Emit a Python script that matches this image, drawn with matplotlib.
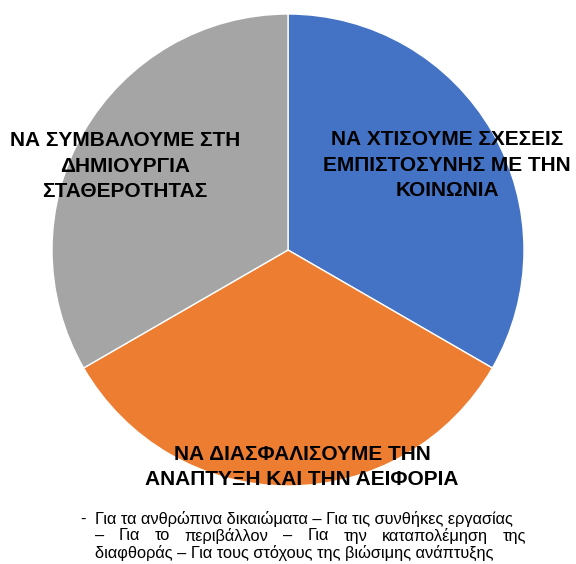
import matplotlib
matplotlib.use("Agg")
import matplotlib.pyplot as plt

plt.rcParams['font.family'] = ['Liberation Sans', 'DejaVu Sans']

categories = ["ΝΑ ΧΤΙΣΟΥΜΕ ΣΧΕΣΕΙΣ\nΕΜΠΙΣΤΟΣΥΝΗΣ ΜΕ ΤΗΝ\nΚΟΙΝΩΝΙΑ",
              "ΝΑ ΔΙΑΣΦΑΛΙΣΟΥΜΕ ΤΗΝ\nΑΝΑΠΤΥΞΗ ΚΑΙ ΤΗΝ ΑΕΙΦΟΡΙΑ",
              "ΝΑ ΣΥΜΒΑΛΟΥΜΕ ΣΤΗ\nΔΗΜΙΟΥΡΓΙΑ\nΣΤΑΘΕΡΟΤΗΤΑΣ"]
values = [1, 1, 1]
colors = ["#4472C4", "#ED7D31", "#A5A5A5"]
note_lines = [
    ["Για τα ανθρώπινα δικαιώματα – Για τις συνθήκες εργασίας"],
    ["–", "Για", "το", "περιβάλλον", "–", "Για", "την", "καταπολέμηση", "της"],
    ["διαφθοράς – Για τους στόχους της βιώσιμης ανάπτυξης"],
]

W, H = 576, 564
fig = plt.figure(figsize=(W / 100, H / 100), dpi=100)
ax = fig.add_axes([52 / W, 1 - 486 / H, 472 / W, 472 / H])
ax.pie(values, colors=colors, startangle=90, counterclock=False,
       wedgeprops=dict(linewidth=1.0, edgecolor="white"))
ax.set_aspect("equal")
ax.set_xlim(-1, 1)
ax.set_ylim(-1, 1)
ax.axis("off")

def px(x, y):
    return x / W, 1 - y / H

label_pos = [(447, 165), (302, 467), (125, 166)]
for lab, (x, y) in zip(categories, label_pos):
    fig.text(*px(x, y), lab, ha="center", va="center", fontsize=15,
             fontweight="bold", linespacing=1.45, color="black")

fs = 11.8
fig.text(*px(80, 519), "-", ha="left", va="center", fontsize=fs)
fig.text(*px(95, 519), note_lines[0][0], ha="left", va="center", fontsize=fs)
fig.text(*px(95, 553), note_lines[2][0], ha="left", va="center", fontsize=fs)

# justified second line
fig.canvas.draw()
r = fig.canvas.get_renderer()
words = note_lines[1]
texts = [fig.text(0, 0, w, fontsize=fs, ha="left", va="center") for w in words]
widths = [t.get_window_extent(r).width for t in texts]
x0, x1 = 95, 526
gap = (x1 - x0 - sum(widths)) / (len(words) - 1)
x = x0
for t, w in zip(texts, widths):
    t.set_position(px(x, 536))
    x += w + gap

fig.savefig("out.png", dpi=100, facecolor="white")
